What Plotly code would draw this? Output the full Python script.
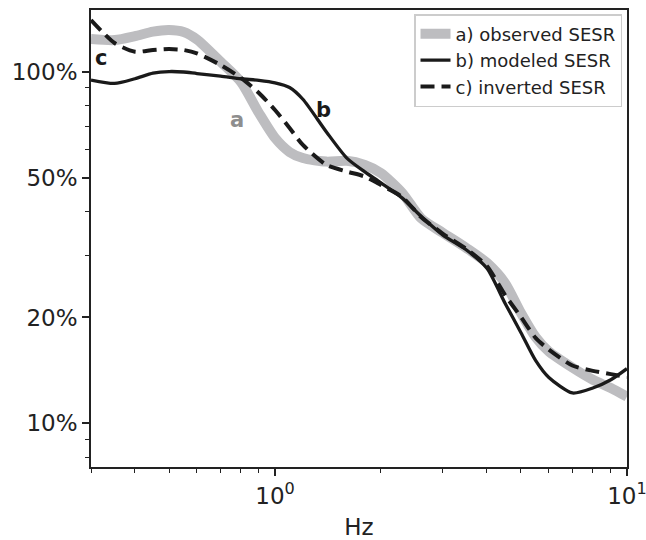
import math
import plotly.graph_objects as go

freq = [0.3, 0.35, 0.4, 0.45, 0.5, 0.55, 0.6, 0.7, 0.8, 0.9, 1.0, 1.1, 1.2, 1.4, 1.6, 1.8,
        2.0, 2.3, 2.6, 3.0, 3.5, 4.0, 4.5, 5.0, 5.5, 6.0, 7.0, 8.0, 9.0, 10.0]
observed = [1.239, 1.230, 1.262, 1.300, 1.314, 1.297, 1.235, 1.068, 0.935, 0.763, 0.648, 0.591,
            0.568, 0.555, 0.558, 0.543, 0.515, 0.452, 0.383, 0.348, 0.315, 0.286, 0.251, 0.206,
            0.176, 0.160, 0.144, 0.133, 0.126, 0.119]
modeled = [0.947, 0.926, 0.955, 0.990, 1.001, 0.998, 0.988, 0.972, 0.955, 0.945, 0.930, 0.902,
           0.835, 0.674, 0.568, 0.519, 0.483, 0.437, 0.388, 0.343, 0.311, 0.276, 0.220, 0.181,
           0.151, 0.135, 0.122, 0.126, 0.133, 0.143]
inverted = [1.403, 1.207, 1.140, 1.153, 1.160, 1.153, 1.128, 1.045, 0.960, 0.870, 0.778, 0.692,
            0.619, 0.543, 0.520, 0.503, 0.476, 0.440, 0.386, 0.346, 0.313, 0.280, 0.232, 0.2005,
            0.175, 0.162, 0.146, 0.141, 0.138, 0.1354]

y_tickvals = [0.1, 0.2, 0.5, 1.0]
y_ticktext = ["10%", "20%", "50%", "100%"]
y_minor = [0.08, 0.09, 0.3, 0.4, 0.6, 0.7, 0.8, 0.9]
x_tickvals = [1, 10]
x_ticktext = ["10<sup>0</sup>", "10<sup>1</sup>"]
x_minor = [0.3, 0.4, 0.5, 0.6, 0.7, 0.8, 0.9, 2, 3, 4, 5, 6, 7, 8, 9]

FONT = "DejaVu Sans"
INK = "#222222"

fig = go.Figure()
fig.add_trace(go.Scatter(x=freq, y=observed, mode="lines", name="a) observed SESR",
                         line=dict(color="#bdbdc0", width=10, shape="spline", smoothing=0.7)))
fig.add_trace(go.Scatter(x=freq, y=modeled, mode="lines", name="b) modeled SESR",
                         line=dict(color="#1a1a1a", width=3.3, shape="spline", smoothing=0.7)))
fig.add_trace(go.Scatter(x=freq, y=inverted, mode="lines", name="c) inverted SESR",
                         line=dict(color="#1a1a1a", width=4, dash="14px,7px", shape="spline", smoothing=0.7)))

labels = [("a", 0.779, 0.729, "#8e8e8e"), ("b", 1.37, 0.778, "#1a1a1a"), ("c", 0.321, 1.094, "#1a1a1a")]
for t, lx, ly, col in labels:
    fig.add_annotation(x=math.log10(lx), y=math.log10(ly), text="<b>%s</b>" % t, showarrow=False,
                       font=dict(family=FONT, size=21, color=col))

fig.update_xaxes(type="log", range=[math.log10(0.3), 1.0002], tickmode="array", tickvals=x_tickvals,
                 ticktext=x_ticktext, ticks="outside", ticklen=7, tickwidth=1.6, tickcolor=INK,
                 showline=True, linecolor=INK, linewidth=1.8, mirror=True, showgrid=False, zeroline=False,
                 automargin=False, ticklabeloverflow="allow",
                 tickfont=dict(family=FONT, size=23, color=INK),
                 title=dict(text="Hz", font=dict(family=FONT, size=23, color=INK), standoff=12),
                 minor=dict(tickmode="array", tickvals=x_minor, ticks="outside", ticklen=4,
                            tickwidth=1.2, tickcolor=INK, showgrid=False))
fig.update_yaxes(type="log", range=[-1.1243, 0.1755], tickmode="array", tickvals=y_tickvals,
                 ticktext=y_ticktext, ticks="outside", ticklen=7, tickwidth=1.6, tickcolor=INK,
                 showline=True, linecolor=INK, linewidth=1.8, mirror=True, showgrid=False, zeroline=False,
                 automargin=False, ticklabeloverflow="allow",
                 tickfont=dict(family=FONT, size=23, color=INK),
                 minor=dict(tickmode="array", tickvals=y_minor, ticks="outside", ticklen=4,
                            tickwidth=1.2, tickcolor=INK, showgrid=False))

fig.update_layout(width=646, height=540, margin=dict(l=91, r=19, t=10, b=73, autoexpand=False),
                  plot_bgcolor="white", paper_bgcolor="white",
                  font=dict(family=FONT, color=INK),
                  legend=dict(x=0.9907, y=0.991, xanchor="right", yanchor="top",
                              bgcolor="rgba(255,255,255,0.9)", bordercolor="#cccccc", borderwidth=1.5,
                              font=dict(family=FONT, size=18, color=INK)))

fig.write_html("out.html")
